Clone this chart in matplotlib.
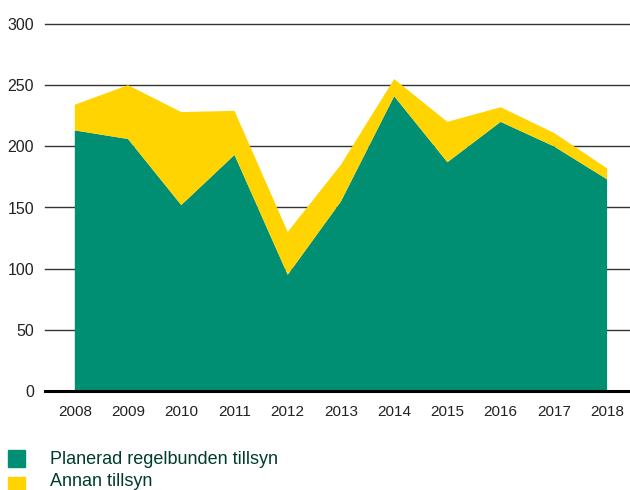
import matplotlib
matplotlib.use("Agg")
import matplotlib.pyplot as plt
from matplotlib.patches import Rectangle

years = [2008, 2009, 2010, 2011, 2012, 2013, 2014, 2015, 2016, 2017, 2018]
planerad = [213, 206, 152, 193, 95, 155, 241, 187, 220, 200, 173]
totalt = [234, 250, 228, 229, 130, 185, 255, 220, 232, 211, 182]
annan = [t - p for t, p in zip(totalt, planerad)]
yticks = [0, 50, 100, 150, 200, 250, 300]
labels = ["Planerad regelbunden tillsyn", "Annan tillsyn"]

green = "#008f72"
yellow = "#ffd400"
textgreen = "#003c2c"

plt.rcParams['font.family'] = ['Liberation Sans', 'DejaVu Sans']

fig = plt.figure(figsize=(6.3, 4.9), dpi=100)
ax = fig.add_axes([45/630, 1 - 391/490, 1 - 45/630, (391 - 24)/490])
ax.set_xlim(2007.44, 2018.43)
ax.set_ylim(0, 300)

for y in yticks[1:]:
    ax.axhline(y, color="#333333", lw=1.0, zorder=1, clip_on=False)

ax.stackplot(years, planerad, annan, colors=[green, yellow], zorder=2, linewidth=0)
ax.axhline(0, color="black", lw=2.2, zorder=3, clip_on=False)

for s in ax.spines.values():
    s.set_visible(False)
ax.set_yticks(yticks)
ax.set_yticklabels([str(v) for v in yticks], fontsize=11.5, color="#222222")
ax.set_xticks(years)
ax.set_xticklabels([str(v) for v in years], fontsize=11, color="#222222")
ax.tick_params(axis="both", length=0)
ax.tick_params(axis="y", pad=8)
ax.tick_params(axis="x", pad=10)

# legend
fig.patches.append(Rectangle((8/630, 1 - 467/490), 17/630, 17/490, transform=fig.transFigure,
                             color=green, figure=fig))
fig.patches.append(Rectangle((8/630, 1 - 494/490), 17/630, 17/490, transform=fig.transFigure,
                             color=yellow, figure=fig))
fig.text(50/630, 1 - 459/490, labels[0], fontsize=13, color=textgreen, va="center", ha="left")
fig.text(50/630, 1 - 481/490, labels[1], fontsize=13, color=textgreen, va="center", ha="left")

fig.savefig("out.png", dpi=100)
